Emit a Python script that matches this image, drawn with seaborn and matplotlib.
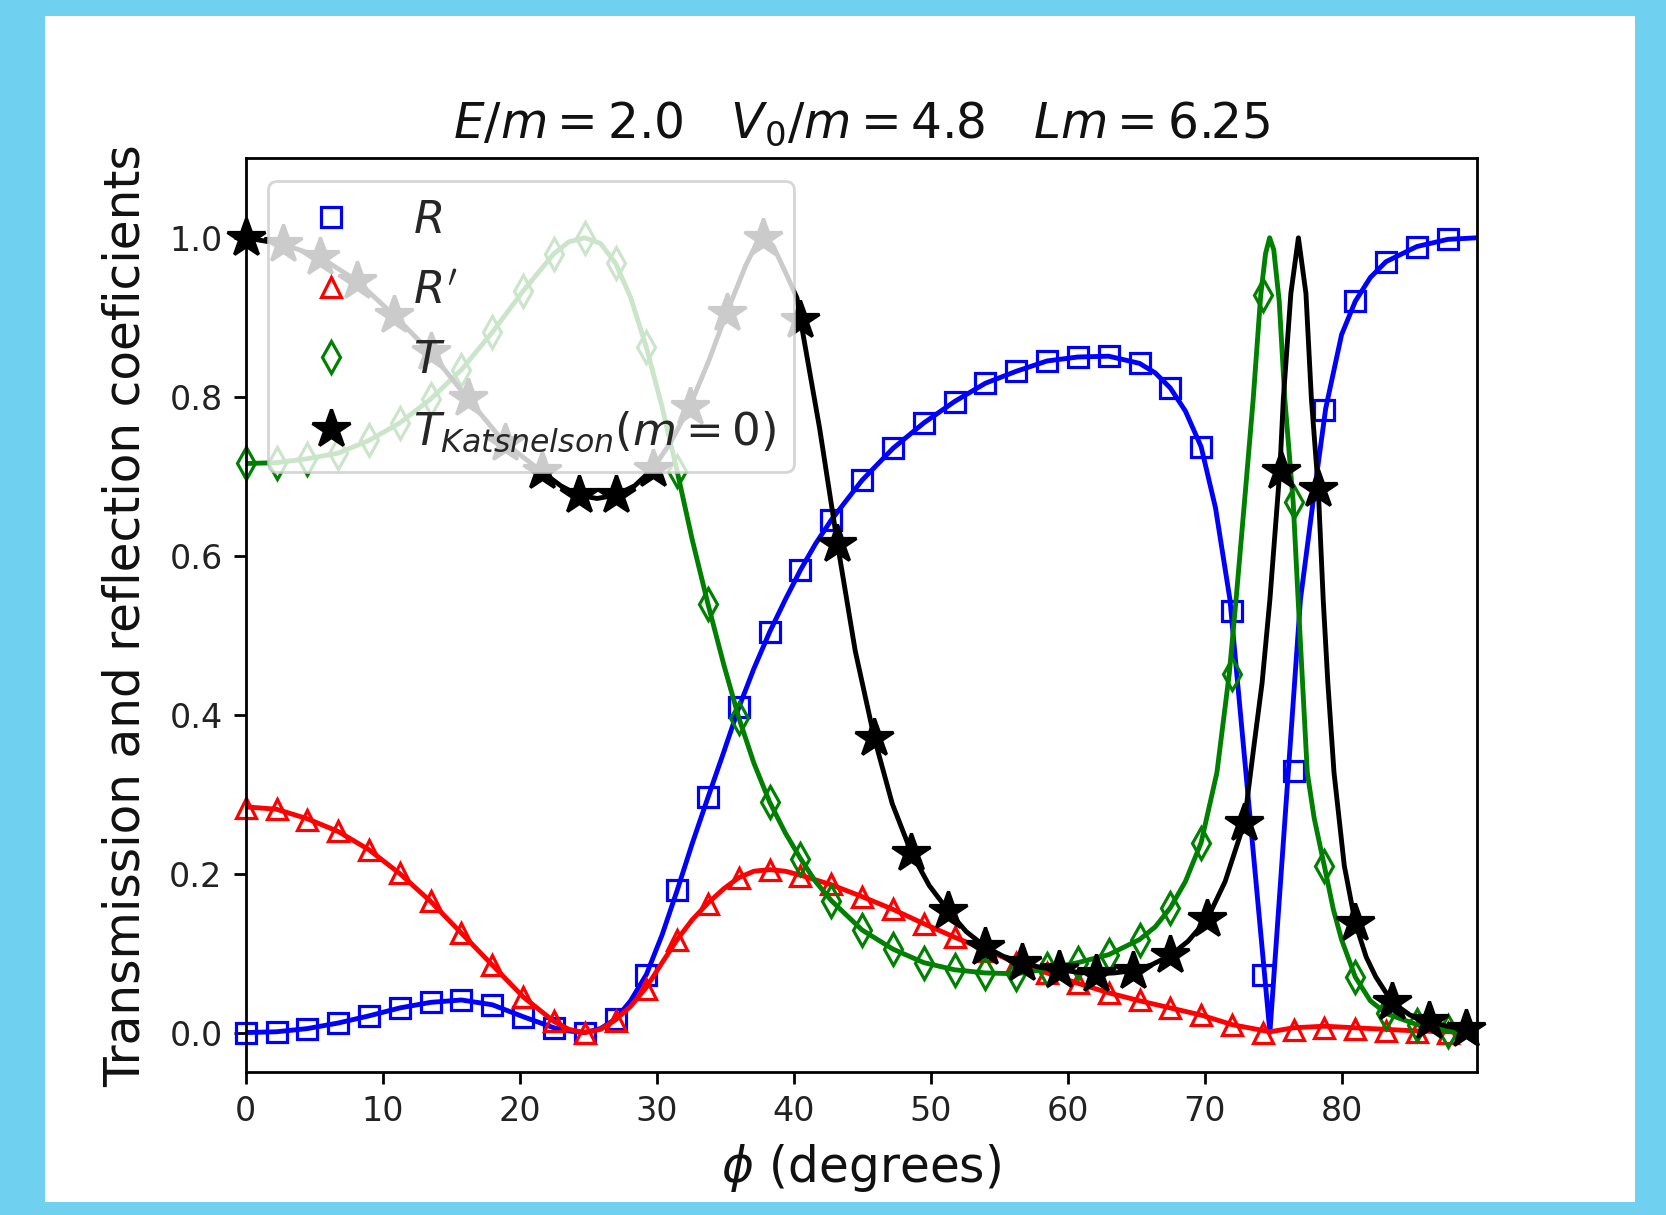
import matplotlib
matplotlib.use("Agg")
import matplotlib.pyplot as plt
from matplotlib.patches import Rectangle
import seaborn as sns

# marker angles (degrees)
phi_pts = [0, 2.25, 4.5, 6.75, 9, 11.25, 13.5, 15.75, 18, 20.25,
           22.5, 24.75, 27, 29.25, 31.5, 33.75, 36, 38.25, 40.5, 42.75,
           45, 47.25, 49.5, 51.75, 54, 56.25, 58.5, 60.75, 63, 65.25,
           67.5, 69.75, 72, 74.25, 76.5, 78.75, 81, 83.25, 85.5, 87.75]
phi_star = [0, 2.7, 5.4, 8.1, 10.8, 13.5, 16.2, 18.9, 21.6, 24.3,
            27.0, 29.7, 32.4, 35.1, 37.8, 40.5, 43.2, 45.9, 48.6, 51.3,
            54.0, 56.7, 59.4, 62.1, 64.8, 67.5, 70.2, 72.9, 75.6, 78.3,
            81.0, 83.7, 86.4, 89.1]

R_pts = [0.0, 0.001, 0.005, 0.012, 0.021, 0.031, 0.038, 0.041, 0.035, 0.020,
         0.006, 0.0, 0.017, 0.073, 0.179, 0.296, 0.409, 0.504, 0.582, 0.645,
         0.695, 0.735, 0.767, 0.794, 0.817, 0.832, 0.845, 0.850, 0.851, 0.842,
         0.811, 0.737, 0.530, 0.073, 0.329, 0.783, 0.920, 0.970, 0.989, 0.998]
Rp_pts = [0.283, 0.281, 0.268, 0.253, 0.230, 0.201, 0.165, 0.125, 0.085, 0.045,
          0.014, 0.0, 0.014, 0.055, 0.116, 0.162, 0.195, 0.205, 0.197, 0.187,
          0.171, 0.155, 0.137, 0.120, 0.103, 0.087, 0.075, 0.062, 0.050, 0.041,
          0.031, 0.022, 0.009, 0.0, 0.003, 0.006, 0.004, 0.002, 0.001, 0.0]
T_pts = [0.716, 0.717, 0.722, 0.729, 0.745, 0.767, 0.797, 0.834, 0.881, 0.933,
         0.980, 1.0, 0.968, 0.862, 0.706, 0.539, 0.396, 0.290, 0.219, 0.166,
         0.129, 0.105, 0.088, 0.079, 0.075, 0.074, 0.080, 0.088, 0.098, 0.117,
         0.157, 0.239, 0.451, 0.928, 0.667, 0.209, 0.070, 0.024, 0.010, 0.002]
TK_pts = [1.0, 0.992, 0.976, 0.946, 0.903, 0.856, 0.798, 0.742, 0.706, 0.676,
          0.676, 0.709, 0.787, 0.905, 1.0, 0.897, 0.615, 0.370, 0.226, 0.153,
          0.108, 0.088, 0.079, 0.074, 0.078, 0.097, 0.143, 0.264, 0.707, 0.684,
          0.138, 0.038, 0.014, 0.004]

# curves
R_x = [0, 2.25, 4.5, 6.75, 9, 11.25, 13.5, 15.75, 18, 20.25, 22.5, 23.6, 24.75,
       25.9, 27, 28.1, 29.25, 30.4, 31.5, 32.6, 33.75, 34.9, 36, 37.1, 38.25,
       39.4, 40.5, 41.6, 42.75, 45, 47.25, 49.5, 51.75, 54, 56.25, 58.5, 60.75,
       63, 65.25, 66.4, 67.5, 68.6, 69.75, 70.8, 71.85, 74.77, 77.0, 77.9,
       78.84, 80.0, 81.0, 82.1, 83.25, 85.5, 87.75, 89.91]
R_y = [0.0, 0.001, 0.005, 0.012, 0.021, 0.031, 0.038, 0.041, 0.035, 0.020, 0.006,
       0.002, 0.0, 0.005, 0.017, 0.040, 0.073, 0.123, 0.179, 0.238, 0.296, 0.353,
       0.409, 0.458, 0.504, 0.545, 0.582, 0.615, 0.645, 0.695, 0.735, 0.767,
       0.794, 0.817, 0.832, 0.845, 0.850, 0.851, 0.842, 0.830, 0.811, 0.782,
       0.737, 0.660, 0.545, 0.0, 0.545, 0.665, 0.785, 0.878, 0.920, 0.950,
       0.970, 0.989, 0.998, 1.0]

Rp_x = [0, 2.25, 4.5, 6.75, 9, 11.25, 13.5, 15.75, 18, 20.25, 22.5, 23.6, 24.75,
        25.9, 27, 28.1, 29.25, 30.4, 31.5, 32.6, 33.75, 34.9, 36, 37.1, 38.25,
        39.4, 40.5, 42.75, 45, 47.25, 49.5, 51.75, 54, 56.25, 58.5, 60.75, 63,
        65.25, 67.5, 69.75, 72, 74.77, 76.5, 78.75, 81, 83.25, 85.5, 87.75, 89.91]
Rp_y = [0.284, 0.281, 0.269, 0.253, 0.230, 0.200, 0.165, 0.125, 0.085, 0.045,
        0.014, 0.004, 0.0, 0.004, 0.016, 0.033, 0.057, 0.088, 0.117, 0.142,
        0.163, 0.181, 0.195, 0.203, 0.205, 0.203, 0.198, 0.186, 0.171, 0.155,
        0.137, 0.120, 0.104, 0.088, 0.075, 0.062, 0.050, 0.040, 0.031, 0.022,
        0.010, 0.001, 0.006, 0.008, 0.006, 0.004, 0.002, 0.001, 0.0]

T_x = [0, 2.25, 4.5, 6.75, 9, 11.25, 13.5, 15.75, 18, 20.25, 22.5, 23.6, 24.75,
       25.9, 27, 28.1, 29.25, 30.4, 31.5, 32.6, 33.75, 34.9, 36, 37.1, 38.25,
       39.4, 40.5, 41.6, 42.75, 45, 47.25, 49.5, 51.75, 54, 56.25, 58.5, 60.75,
       63, 65.25, 66.4, 67.5, 68.6, 69.75, 70.9, 71.8, 72.3, 73.0, 73.55, 74.1,
       74.45, 74.75, 75.05, 75.45, 75.86, 76.47, 76.83, 77.5, 78.0, 78.75,
       79.4, 80.0, 81.0, 82.1, 83.25, 85.5, 87.75, 89.91]
T_y = [0.716, 0.717, 0.722, 0.729, 0.745, 0.767, 0.797, 0.834, 0.881, 0.933,
       0.980, 0.995, 1.0, 0.993, 0.968, 0.925, 0.862, 0.787, 0.706, 0.620,
       0.539, 0.463, 0.396, 0.339, 0.290, 0.251, 0.219, 0.190, 0.166, 0.129,
       0.105, 0.088, 0.079, 0.075, 0.074, 0.080, 0.088, 0.098, 0.117, 0.133,
       0.157, 0.190, 0.239, 0.327, 0.451, 0.545, 0.685, 0.797, 0.928, 0.980,
       1.0, 0.985, 0.920, 0.797, 0.667, 0.545, 0.327, 0.270, 0.209, 0.155,
       0.117, 0.070, 0.040, 0.024, 0.010, 0.002, 0.0]

TK_x = [0, 2.7, 5.4, 8.1, 10.8, 13.5, 16.2, 18.9, 21.6, 23.0, 24.3, 25.65, 27.0,
        28.4, 29.7, 31.0, 32.4, 33.8, 35.1, 36.5, 37.3, 37.85, 38.5, 39.5,
        40.25, 40.5, 41.9, 43.2, 44.5, 45.9, 47.2, 48.6, 49.9, 51.3, 52.6, 54.0,
        55.3, 56.7, 58.0, 59.4, 60.7, 62.1, 63.4, 64.8, 66.1, 67.5, 68.8, 70.2,
        71.5, 72.9, 73.6, 74.2, 74.77, 75.5, 75.75, 76.3, 76.85, 77.4, 77.8,
        78.3, 78.66, 79.0, 79.45, 80.2, 81.0, 81.8, 82.5, 83.7, 85.0, 86.4,
        87.7, 89.1, 89.91]
TK_y = [1.0, 0.992, 0.976, 0.946, 0.903, 0.856, 0.798, 0.742, 0.706, 0.688,
        0.676, 0.672, 0.676, 0.688, 0.709, 0.742, 0.787, 0.845, 0.905, 0.965,
        0.993, 1.0, 0.990, 0.953, 0.924, 0.897, 0.760, 0.615, 0.480, 0.370,
        0.288, 0.226, 0.185, 0.153, 0.127, 0.108, 0.096, 0.088, 0.082, 0.079,
        0.076, 0.074, 0.075, 0.078, 0.085, 0.097, 0.115, 0.143, 0.190, 0.264,
        0.360, 0.440, 0.545, 0.709, 0.797, 0.930, 1.0, 0.930, 0.797, 0.684,
        0.545, 0.440, 0.327, 0.210, 0.138, 0.095, 0.070, 0.038, 0.022, 0.014,
        0.008, 0.004, 0.002]

sns.set_style("ticks")
plt.rcParams['font.family'] = ['DejaVu Sans']
plt.rcParams['mathtext.fontset'] = 'dejavusans'

fig = plt.figure(figsize=(16.66, 12.15), dpi=100, facecolor='#70d0f0')
fig.add_artist(Rectangle((45 / 1666, 1 - 1202 / 1215), 1590 / 1666, 1186 / 1215,
                         transform=fig.transFigure, facecolor='white',
                         edgecolor='none', zorder=0))
ax = fig.add_axes([245.7 / 1666, 1 - 1072.3 / 1215,
                   (1477.3 - 245.7) / 1666, (1072.3 - 158.3) / 1215])
ax.set_facecolor('white')

lw = 3.5
mew = 2.3
series = [
    (R_x, R_y, phi_pts, R_pts, 'b', 's', 15, 'none', '$R$'),
    (Rp_x, Rp_y, phi_pts, Rp_pts, 'r', '^', 15, 'none', "$R'$"),
    (T_x, T_y, phi_pts, T_pts, 'g', 'd', 16, 'none', '$T$'),
    (TK_x, TK_y, phi_star, TK_pts, 'k', '*', 29, 'k', '$T_{Katsnelson}(m=0)$'),
]
for cx, cy, mx, my, col, mk, ms, fc, lab in series:
    sns.lineplot(x=cx, y=cy, color=col, linewidth=lw, ax=ax, sort=False,
                 errorbar=None)
    sns.lineplot(x=mx, y=my, color=col, linestyle='', marker=mk, markersize=ms,
                 markerfacecolor=fc, markeredgecolor=col, markeredgewidth=mew,
                 label=lab, ax=ax, sort=False, errorbar=None, clip_on=False)

ax.set_xlim(0, 89.91)
ax.set_ylim(-0.05, 1.1)
ax.set_xticks([0, 10, 20, 30, 40, 50, 60, 70, 80])
ax.set_yticks([0.0, 0.2, 0.4, 0.6, 0.8, 1.0])
ax.tick_params(direction='out', length=8.7, width=2, labelsize=24, pad=8,
               colors='black', labelcolor='#222222')
for s in ax.spines.values():
    s.set_linewidth(2)
    s.set_color('black')
    s.set_visible(True)

ax.set_title(r'$E/m = 2.0$   $V_0/m = 4.8$   $Lm = 6.25$', fontsize=35,
             pad=15, color='#111111')
ax.set_xlabel(r'$\phi$ (degrees)', fontsize=35, labelpad=10, color='#111111')
ax.set_ylabel('Transmission and reflection coeficients', fontsize=35,
              labelpad=14, color='#111111')

leg = ax.legend(loc='upper left', fontsize=32.5, numpoints=1, framealpha=0.8,
                fancybox=True, borderaxespad=0.5, labelspacing=0.6)
leg.get_frame().set_edgecolor('0.8')
leg.get_frame().set_linewidth(2)

fig.savefig('out.png', dpi=100, facecolor=fig.get_facecolor())
